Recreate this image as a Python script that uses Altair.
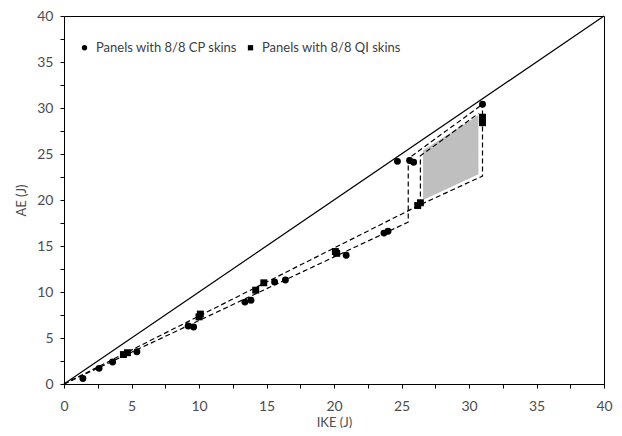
import altair as alt
import pandas as pd

# Panels with 8/8 CP skins (circles)
cp_ike = [1.4, 2.6, 3.6, 5.4, 9.2, 9.6, 13.4, 13.85, 15.6, 16.4, 20.9, 23.7, 24.0, 24.7, 25.6, 25.9, 31.0]
cp_ae = [0.6, 1.7, 2.4, 3.5, 6.3, 6.2, 8.9, 9.1, 11.1, 11.3, 14.0, 16.4, 16.6, 24.2, 24.3, 24.1, 30.4]

# Panels with 8/8 QI skins (squares)
qi_ike = [4.4, 4.7, 10.0, 10.1, 14.2, 14.8, 20.1, 20.2, 26.2, 26.4, 31.0, 31.0]
qi_ae = [3.2, 3.4, 7.3, 7.6, 10.2, 11.0, 14.4, 14.2, 19.4, 19.7, 28.4, 29.0]

# 1:1 reference line
ref_ike = [0, 40]
ref_ae = [0, 40]

# dashed envelopes
path_a_ike = [0, 25.5, 25.5, 31.0]
path_a_ae = [0, 17.6, 24.5, 30.4]
path_b_ike = [0, 26.4, 31.0, 31.0]
path_b_ae = [0, 19.5, 22.6, 30.4]
path_c_ike = [26.4, 26.4, 30.7]
path_c_ae = [19.5, 24.8, 29.4]

# grey shaded region
shade_ike = [26.6, 30.7]
shade_lo = [20.0, 22.8]
shade_hi = [25.4, 29.2]

ticks = [i * 2.5 for i in range(17)]
series_names = ["Panels with 8/8 CP skins", "Panels with 8/8 QI skins"]

pts = pd.DataFrame(
    {"x": cp_ike + qi_ike, "y": cp_ae + qi_ae,
     "skin": [series_names[0]] * len(cp_ike) + [series_names[1]] * len(qi_ike)}
)
ref = pd.DataFrame({"x": ref_ike, "y": ref_ae})
rows = []
for name, xs_, ys_ in [("a", path_a_ike, path_a_ae), ("b", path_b_ike, path_b_ae), ("c", path_c_ike, path_c_ae)]:
    for i, (xv, yv) in enumerate(zip(xs_, ys_)):
        rows.append({"path": name, "seq": i, "x": xv, "y": yv})
paths = pd.DataFrame(rows)
shade = pd.DataFrame({"x": shade_ike, "y": shade_lo, "y2": shade_hi})

label_expr = "datum.value % 5 == 0 ? datum.label : ''"
xaxis = alt.Axis(title="IKE (J)", values=ticks, labelExpr=label_expr, grid=False, domain=False,
                 tickSize=4, tickColor="#000", labelPadding=11, titlePadding=3,
                 labelFlush=False, labelOverlap=False,
                 labelFontSize=14, titleFontSize=13, labelColor="#4d4d4d", titleColor="#4d4d4d",
                 titleFontWeight="normal")
yaxis = alt.Axis(title="AE (J)", values=ticks, labelExpr=label_expr, grid=False, domain=False,
                 tickSize=4, tickColor="#000", labelPadding=7, titlePadding=8,
                 labelFlush=False, labelOverlap=False,
                 labelFontSize=14, titleFontSize=13, labelColor="#4d4d4d", titleColor="#4d4d4d",
                 titleFontWeight="normal")
xs = alt.Scale(domain=[0, 40], nice=False, zero=True)
ys = alt.Scale(domain=[0, 40], nice=False, zero=True)

def X():
    return alt.X("x:Q", scale=xs, axis=xaxis)

def Y():
    return alt.Y("y:Q", scale=ys, axis=yaxis)

shade_layer = alt.Chart(shade).mark_area(color="#bfbfbf", opacity=1).encode(
    x=X(), y=Y(), y2="y2:Q"
)
ref_layer = alt.Chart(ref).mark_line(color="black", strokeWidth=1.2).encode(x=X(), y=Y())
path_layer = alt.Chart(paths).mark_line(color="black", strokeWidth=1.2, strokeDash=[5, 3]).encode(
    x=X(), y=Y(), detail="path:N", order="seq:Q"
)
pt_layer = alt.Chart(pts).mark_point(filled=True, color="black", opacity=1, size=48).encode(
    x=X(), y=Y(),
    shape=alt.Shape("skin:N", scale=alt.Scale(domain=series_names, range=["circle", "square"]),
                    legend=alt.Legend(title=None, orient="none", legendX=14, legendY=25,
                                      direction="horizontal", symbolSize=28,
                                      symbolFillColor="black", symbolStrokeColor="black",
                                      labelFontSize=13, labelColor="#404040", labelOffset=5,
                                      columnPadding=6)),
)

chart = alt.layer(shade_layer, ref_layer, path_layer, pt_layer).properties(
    width=540, height=368,
    autosize=alt.AutoSizeParams(type="none"),
    padding={"left": 56, "top": 8, "right": 10, "bottom": 44},
).configure(font="Lato").configure_view(stroke="black", strokeWidth=1)

chart.save("out.html", embed_options={"renderer": "svg", "actions": False})
